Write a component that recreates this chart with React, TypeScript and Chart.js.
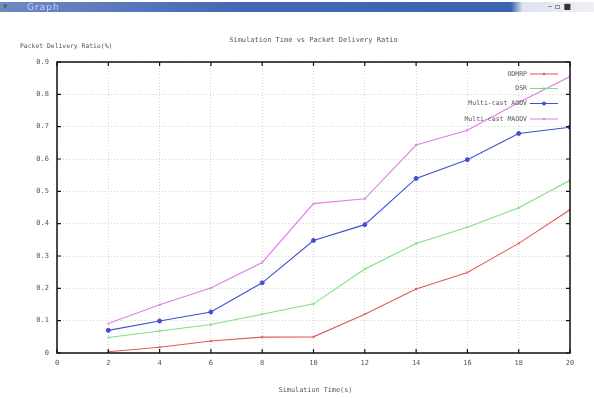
import React, { useEffect, useRef } from "react";
import { Chart, registerables } from "chart.js";

Chart.register(...registerables);

const xValues = [2, 4, 6, 8, 10, 12, 14, 16, 18, 20];
const odmrp = [0.004, 0.018, 0.037, 0.049, 0.05, 0.12, 0.198, 0.249, 0.339, 0.443];
const dsr = [0.048, 0.068, 0.088, 0.12, 0.152, 0.26, 0.339, 0.389, 0.449, 0.534];
const maodvBlue = [0.07, 0.099, 0.127, 0.217, 0.348, 0.397, 0.54, 0.598, 0.679, 0.698];
const maodvPink = [0.091, 0.149, 0.201, 0.28, 0.462, 0.477, 0.643, 0.689, 0.775, 0.855];
const seriesNames = ["ODMRP", "DSR", "Multi-cast AODV", "Multi-cast MAODV"];
const seriesColors = ["#e05a5a", "#7fe07f", "#3f4fd0", "#e27ce8"];
const chartTitle = "Simulation Time vs Packet Delivery Ratio";
const yTitle = "Packet Delivery Ratio(%)";
const xTitle = "Simulation Time(s)";

const MONO = "'DejaVu Sans Mono', monospace";

export default function App() {
  const ref = useRef<HTMLCanvasElement | null>(null);

  useEffect(() => {
    document.body.style.margin = "0";
    const canvas = ref.current;
    if (!canvas) return;
    const datasets = [odmrp, dsr, maodvBlue, maodvPink].map((vals, i) => ({
      label: seriesNames[i],
      data: xValues.map((x, j) => ({ x, y: vals[j] })),
      borderColor: seriesColors[i],
      backgroundColor: seriesColors[i],
      borderWidth: 1.1,
      pointRadius: i === 2 ? 2 : 1.5,
      pointStyle: i === 2 ? "circle" : "crossRot",
      pointBorderWidth: 1,
      tension: 0,
    }));

    const framePlugin = {
      id: "frame",
      afterDraw(chart: any) {
        const { ctx, chartArea } = chart;
        const xs = chart.scales.x;
        const ys = chart.scales.y;
        ctx.save();
        ctx.strokeStyle = "#111";
        ctx.lineWidth = 1.5;
        ctx.strokeRect(chartArea.left, chartArea.top, chartArea.right - chartArea.left, chartArea.bottom - chartArea.top);
        ctx.lineWidth = 1.2;
        const tl = 4;
        ctx.beginPath();
        xs.ticks.forEach((t: any) => {
          const px = xs.getPixelForValue(t.value);
          ctx.moveTo(px, chartArea.bottom);
          ctx.lineTo(px, chartArea.bottom - tl);
          ctx.moveTo(px, chartArea.top);
          ctx.lineTo(px, chartArea.top + tl);
        });
        ys.ticks.forEach((t: any) => {
          const py = ys.getPixelForValue(t.value);
          ctx.moveTo(chartArea.left, py);
          ctx.lineTo(chartArea.left + tl, py);
          ctx.moveTo(chartArea.right, py);
          ctx.lineTo(chartArea.right - tl, py);
        });
        ctx.stroke();

        // legend
        ctx.font = `6.5px ${MONO}`;
        ctx.textAlign = "right";
        ctx.textBaseline = "middle";
        const rowY = [74, 88.5, 103.5, 119];
        const textRight = chartArea.right - 43;
        const lx0 = chartArea.right - 40;
        const lx1 = chartArea.right - 12;
        seriesNames.forEach((name, i) => {
          ctx.fillStyle = "#555";
          ctx.fillText(name, textRight, rowY[i]);
          ctx.strokeStyle = seriesColors[i];
          ctx.lineWidth = 1;
          ctx.beginPath();
          ctx.moveTo(lx0, rowY[i]);
          ctx.lineTo(lx1, rowY[i]);
          ctx.stroke();
          const mx = (lx0 + lx1) / 2;
          ctx.fillStyle = seriesColors[i];
          ctx.beginPath();
          ctx.arc(mx, rowY[i], i === 2 ? 2 : 1.2, 0, Math.PI * 2);
          ctx.fill();
        });

        // titles
        ctx.fillStyle = "#555";
        ctx.textAlign = "center";
        ctx.font = `7px ${MONO}`;
        ctx.fillText(chartTitle, (chartArea.left + chartArea.right) / 2, 40);
        ctx.textAlign = "left";
        ctx.font = `6.4px ${MONO}`;
        ctx.fillText(yTitle, 20, 46);
        ctx.textAlign = "center";
        ctx.font = `6.8px ${MONO}`;
        ctx.fillText(xTitle, (chartArea.left + chartArea.right) / 2 + 2, 390);
        ctx.restore();
      },
    };

    const chart = new Chart(canvas, {
      type: "line",
      data: { datasets },
      plugins: [framePlugin],
      options: {
        animation: false,
        responsive: false,
        maintainAspectRatio: false,
        layout: { padding: { top: 62, right: 24, left: 0, bottom: 0 } },
        plugins: {
          legend: { display: false },
          title: { display: false },
          tooltip: { enabled: false },
        },
        scales: {
          x: {
            type: "linear",
            min: 0,
            max: 20,
            ticks: {
              stepSize: 2,
              color: "#555",
              font: { family: MONO, size: 7 },
              padding: 6,
              maxRotation: 0,
            },
            grid: { color: "#d4d4d4", tickLength: 0, drawTicks: false },
            border: { display: false, dash: [1, 2] },
            afterFit: (s: any) => {
              s.height = 45;
            },
          },
          y: {
            type: "linear",
            min: 0,
            max: 0.9,
            ticks: {
              stepSize: 0.1,
              color: "#555",
              font: { family: MONO, size: 7 },
              padding: 8,
              callback: (v: any) => (Number(v) === 0 ? "0" : Number(v).toFixed(1)),
            },
            grid: { color: "#d4d4d4", drawTicks: false },
            border: { display: false, dash: [1, 2] },
            afterFit: (s: any) => {
              s.width = 57;
            },
          },
        },
      },
    });
    return () => chart.destroy();
  }, []);

  return (
    <div style={{ position: "relative", width: 594, height: 398, background: "#fff", overflow: "hidden" }}>
      <canvas ref={ref} width={594} height={398} style={{ position: "absolute", left: 0, top: 0 }} />
      <div
        style={{
          position: "absolute",
          left: 0,
          top: 2,
          width: 594,
          height: 10,
          background: "linear-gradient(90deg, #6f88c4 0%, #4468b4 40%, #3c62b2 86%, #dfe3ee 88%, #eef0f5 100%)",
        }}
      >
        <span style={{ position: "absolute", left: 3, top: -1, color: "#3a7a3a", fontSize: 9, fontFamily: "DejaVu Sans", fontWeight: "bold" }}>▾</span>
        <span style={{ position: "absolute", left: 27, top: 0, color: "#c8d4f0", fontSize: 9, lineHeight: "10px", fontFamily: "DejaVu Sans", letterSpacing: 1 }}>Graph</span>
        <span style={{ position: "absolute", left: 548, top: 0, color: "#333", fontSize: 8, lineHeight: "10px", fontFamily: "DejaVu Sans", letterSpacing: 3 }}>–▫■</span>
      </div>
    </div>
  );
}
